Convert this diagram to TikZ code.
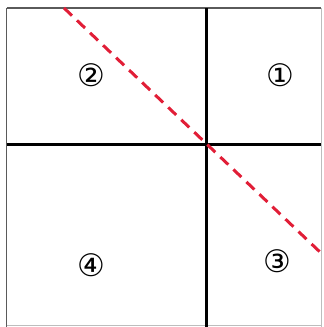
\documentclass[tikz,border=0pt]{standalone}
\usepackage{fontspec}
\newfontfamily\symfont{DejaVu Sans}
\definecolor{redline}{RGB}{225,30,55}
\definecolor{framegray}{RGB}{90,90,90}
\begin{document}
\begin{tikzpicture}[x=1pt,y=-1pt,
  outer/.style={draw=framegray,line width=1.8pt},
  inner/.style={draw=black,line width=3pt},
  diag/.style={draw=redline,line width=3pt,dash pattern=on 11pt off 7pt},
  lbl/.style={font=\symfont\fontsize{31}{31}\selectfont,inner sep=0pt}]
\useasboundingbox (0,0) rectangle (324,327);
\draw[outer] (6.5,8) -- (321,8);
\draw[outer] (6.5,8) -- (6.5,327);
\draw[draw=framegray!40,line width=0.8pt] (321,8) -- (321,327);
\draw[draw=framegray!40,line width=0.8pt] (6.5,325) -- (321,325);
\coordinate (vt) at (206,8);
\coordinate (vb) at (206,327);
\coordinate (hl) at (6.5,144);
\coordinate (hr) at (321,144);
\draw[inner] (vt) -- (vb);
\draw[inner] (hl) -- (hr);
\coordinate (d1) at (64,8);
\coordinate (d2) at (321,253);
\draw[diag] (d1) -- (d2);
\node[lbl] (n2) at (91,75) {②};
\node[lbl] (n1) at (280,75) {①};
\node[lbl] (n4) at (91,265) {④};
\node[lbl] (n3) at (277,261) {③};
\end{tikzpicture}
\end{document}
